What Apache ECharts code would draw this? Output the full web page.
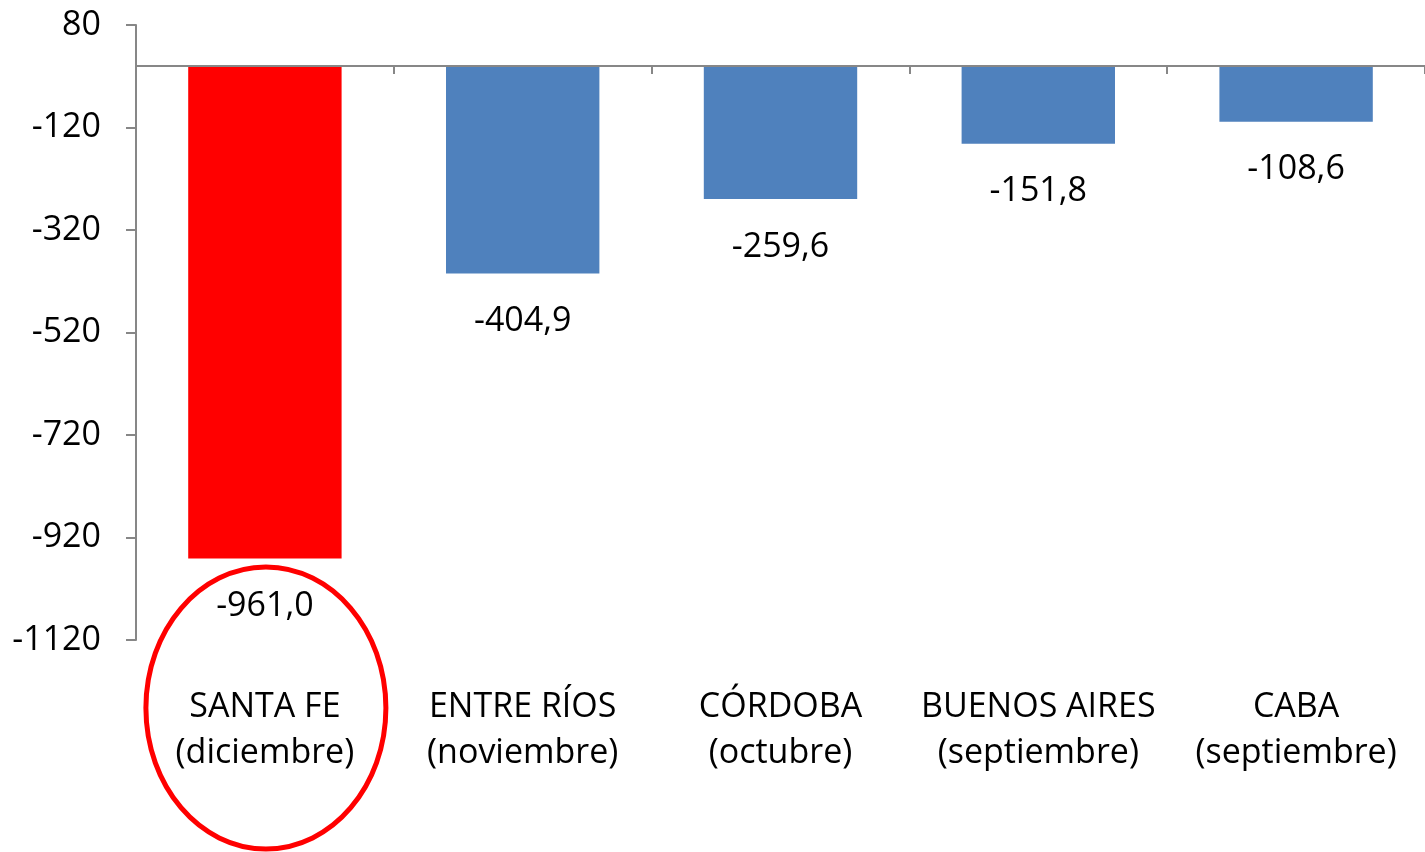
<!DOCTYPE html>
<html><head><meta charset="utf-8">
<script src="https://cdn.jsdelivr.net/npm/echarts@6/dist/echarts.min.js"></script>
<style>html,body{margin:0;padding:0;background:#fff}#c{width:1425px;height:852px}</style>
</head><body><div id="c"></div>
<script>
const categories = ['SANTA FE\n(diciembre)', 'ENTRE RÍOS\n(noviembre)', 'CÓRDOBA\n(octubre)', 'BUENOS AIRES\n(septiembre)', 'CABA\n(septiembre)'];
const values = [-961.0, -404.9, -259.6, -151.8, -108.6];
const barColors = ['#FF0000', '#4F81BD', '#4F81BD', '#4F81BD', '#4F81BD'];
const yMin = -1120, yMax = 80, yStep = 200;
const FONT = '"Open Sans", sans-serif';
const FS = 34;

const chart = echarts.init(document.getElementById('c'));
chart.setOption({
  animation: false,
  grid: { left: 136, right: -4, top: 25, bottom: 212, containLabel: false },
  xAxis: [{
    type: 'category', data: categories,
    axisLine: { onZero: true, lineStyle: { color: '#878787', width: 2 } },
    axisTick: { show: true, length: 8, lineStyle: { color: '#878787', width: 2 } },
    axisLabel: { show: false }, z: 10
  }, {
    type: 'category', data: categories, position: 'bottom',
    axisLine: { show: false, onZero: false }, axisTick: { show: false },
    axisLabel: { interval: 0, margin: 44, color: '#000', fontFamily: FONT, fontSize: FS, lineHeight: 46 }
  }],
  yAxis: {
    type: 'value', min: yMin, max: yMax, interval: yStep,
    axisLine: { show: true, lineStyle: { color: '#878787', width: 2 } },
    axisTick: { show: true, length: 10, lineStyle: { color: '#878787', width: 2 } },
    splitLine: { show: false },
    axisLabel: { color: '#000', fontFamily: FONT, fontSize: FS, margin: 35, formatter: v => String(v) }
  },
  series: [{
    type: 'bar', xAxisIndex: 0, barWidth: '59.5%',
    data: values.map((v, i) => ({ value: v, itemStyle: { color: barColors[i] } })),
    label: {
      show: true, position: 'bottom', distance: 31, color: '#000',
      fontFamily: FONT, fontSize: FS,
      formatter: p => p.value.toFixed(1).replace('.', ',')
    }
  }]
});

const cx = chart.convertToPixel({ xAxisIndex: 0 }, 0);
const yb = chart.convertToPixel({ yAxisIndex: 0 }, yMin);
chart.setOption({
  graphic: [{
    type: 'ellipse', shape: { cx: cx + 1, cy: yb + 68, rx: 120, ry: 141 },
    style: { fill: 'none', stroke: '#FF0000', lineWidth: 5 }, z: 100
  }]
});
</script></body></html>
